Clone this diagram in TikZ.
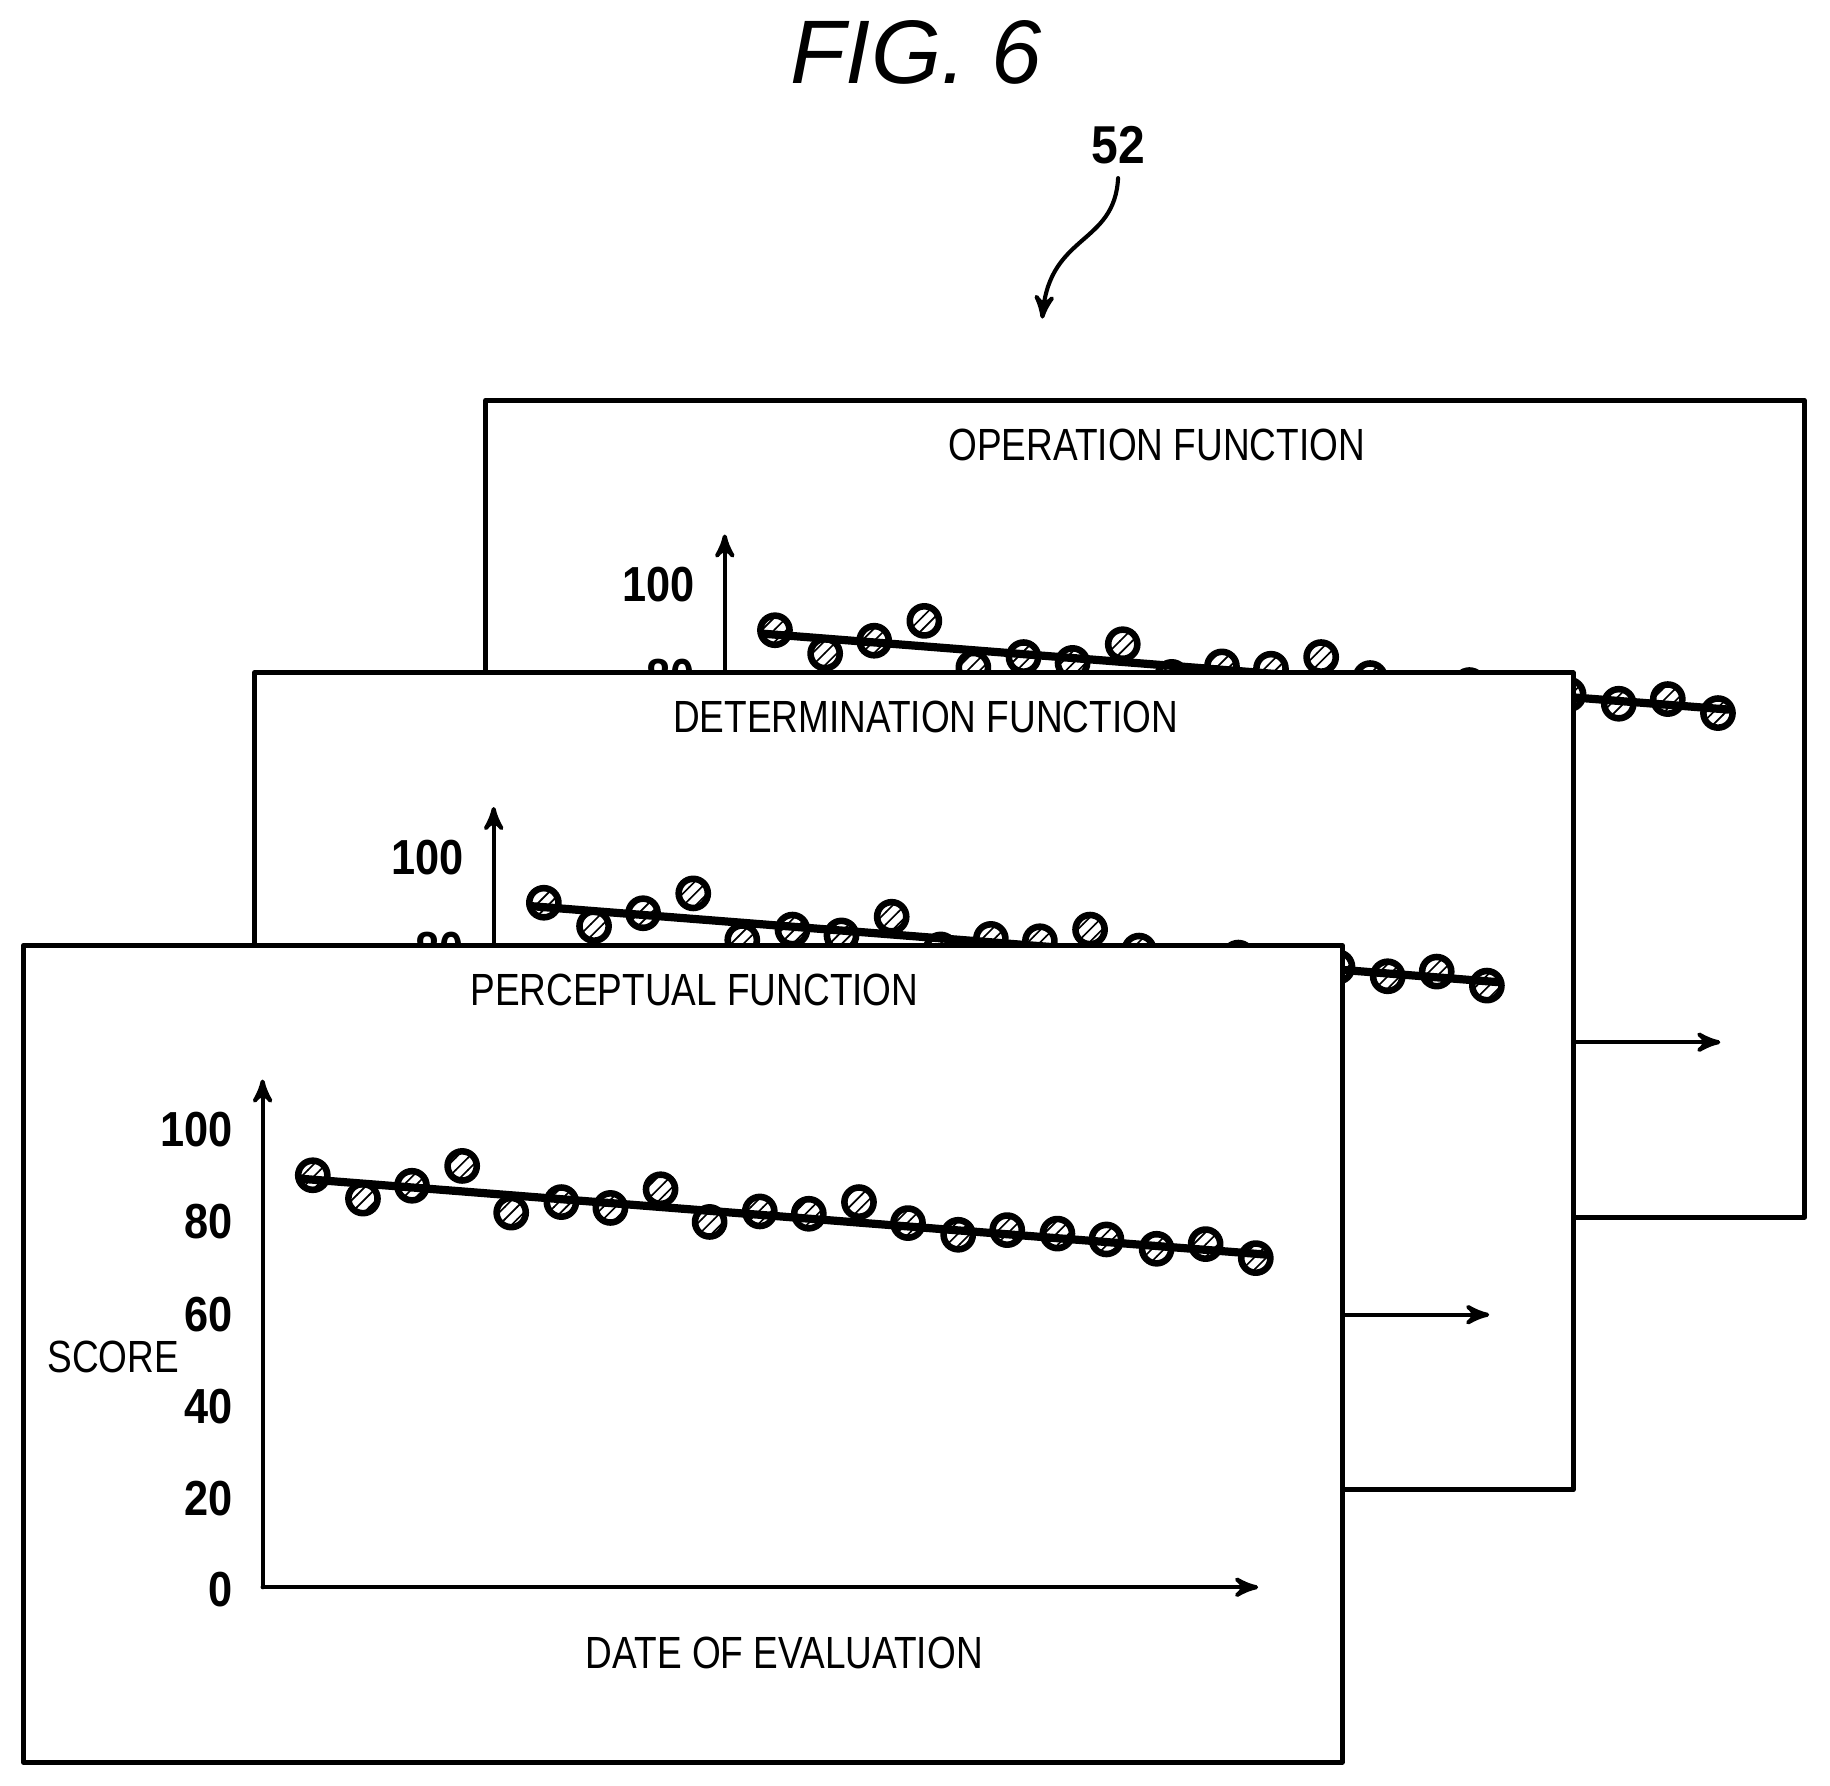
\documentclass[tikz,border=0pt]{standalone}
\usepackage{fontspec}
\setmainfont{Liberation Sans}
\usetikzlibrary{arrows,patterns}

\tikzset{
  panelbox/.style={draw,line width=1.2pt,fill=white},
  axis/.style={line width=1pt,->,>=stealth'},
  dot/.style={draw,line width=1.6pt,pattern=north east lines,minimum size=0.25cm,inner sep=0pt,circle},
  tick/.style={font=\fontsize{12}{14}\bfseries,xscale=0.88},
  lbl/.style={font=\fontsize{11}{13}\selectfont,xscale=0.82}
}

% one score panel, shifted by (#1,#2)
\newcommand{\scorepanel}[4]{%
\begin{scope}[shift={(#1,#2)}]
\draw[panelbox] (0.20,0.20) rectangle (11.50,7.20);
\node[lbl] (#4title) at (5.95,6.82) {#3};
\draw[axis] (2.25,1.70) -- (2.25,6.05);
\draw[axis] (2.25,1.70) -- (10.78,1.70);
\foreach \v/\y in {0/1.68,20/2.46,40/3.25,60/4.04,80/4.83,100/5.62}
  \node[tick,anchor=east] at (2.10,\y) {\v};
\node[lbl] (#4score) at (0.97,3.67) {SCORE};
\node[lbl] (#4date) at (6.72,1.14) {DATE OF EVALUATION};
\draw[line width=2pt] (2.58,5.20) -- (10.85,4.55);
\foreach \x/\y [count=\i] in {2.68/5.23,3.11/5.03,3.53/5.14,3.96/5.31,4.38/4.91,4.81/5.00,5.23/4.95,5.66/5.11,6.08/4.83,6.51/4.92,6.93/4.90,7.36/5.00,7.78/4.82,8.21/4.72,8.63/4.76,9.06/4.73,9.48/4.68,9.91/4.60,10.33/4.64,10.76/4.52}
  \node[dot] (#4d\i) at (\x,\y) {};
\end{scope}}

\begin{document}
\begin{tikzpicture}[line cap=round,line join=round,x=1cm,y=1cm]
\useasboundingbox (0,0) rectangle (15.68,15.30);
\node[font=\fontsize{22}{26}\itshape] (fig) at (7.85,14.85) {FIG. 6};
\node[font=\fontsize{13}{15}\bfseries,xscale=0.9] (ref) at (9.58,14.06) {52};
\coordinate (tip) at (8.93,12.57);
\draw[line width=1pt,->,>=stealth'] (ref.south) .. controls (9.55,13.20) and (9.00,13.30) .. (tip);
\scorepanel{3.96}{4.67}{OPERATION FUNCTION}{op}
\scorepanel{1.98}{2.335}{DETERMINATION FUNCTION}{de}
\scorepanel{0}{0}{PERCEPTUAL FUNCTION}{pe}
\end{tikzpicture}
\end{document}
